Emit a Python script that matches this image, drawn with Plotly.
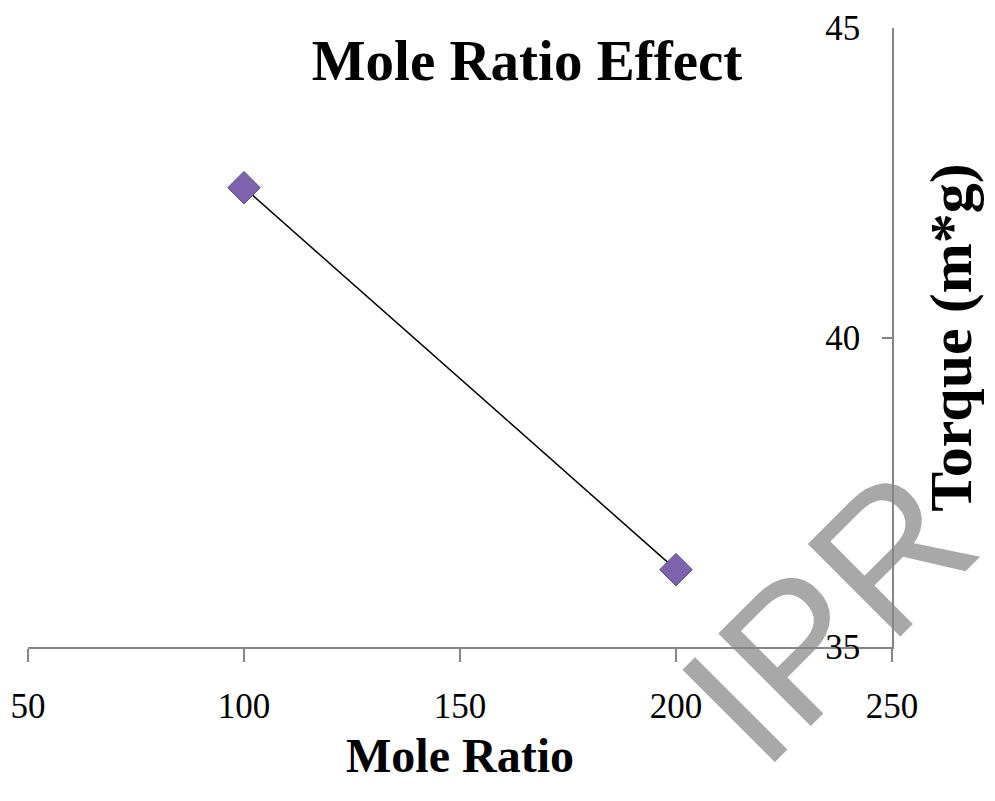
import plotly.graph_objects as go

mole_ratio = [100, 200]
torque = [42.42, 36.25]
x_ticks = [50, 100, 150, 200, 250]
y_ticks = [35, 40, 45]

SERIF = "Liberation Serif, Times New Roman, serif"

fig = go.Figure()
fig.add_trace(go.Scatter(
    x=mole_ratio, y=torque, mode="lines+markers",
    line=dict(color="black", width=1.5),
    marker=dict(symbol="diamond", size=25, color="#7D62AE",
                line=dict(color="#5C4784", width=1)),
    showlegend=False,
))

fig.update_layout(
    width=995, height=801,
    margin=dict(l=28, r=103, t=28, b=154),
    paper_bgcolor="white", plot_bgcolor="rgba(0,0,0,0)",
    title=dict(text="<b>Mole Ratio Effect</b>", x=527/995, xanchor="center",
               y=1 - 60/801, yanchor="middle",
               font=dict(family=SERIF, size=57, color="black")),
    xaxis=dict(
        range=[50, 250], tickvals=x_ticks, ticktext=[str(v) for v in x_ticks],
        showgrid=False, zeroline=False, automargin=False,
        showline=True, linecolor="#868686", linewidth=1.5,
        ticks="outside", ticklen=13, tickcolor="#868686", tickwidth=1.5,
        tickfont=dict(family=SERIF, size=35, color="black"),
        ticklabelstandoff=14, ticklabeloverflow="allow",
        title=dict(text="<b>Mole Ratio</b>", standoff=14,
                   font=dict(family=SERIF, size=48, color="black")),
    ),
    yaxis=dict(
        range=[35, 45], tickvals=y_ticks, ticktext=[str(v) for v in y_ticks],
        side="right", showgrid=False, zeroline=False, automargin=False,
        showline=True, linecolor="#868686", linewidth=1.5,
        ticks="inside", ticklen=10, tickcolor="#868686", tickwidth=1.5,
        ticklabelposition="inside", ticklabeloverflow="allow",
        ticklabelstandoff=26,
        tickfont=dict(family=SERIF, size=35, color="black"),
        title=dict(text="<b>Torque (m*g)</b>", standoff=70,
                   font=dict(family=SERIF, size=60, color="black")),
    ),
)

# watermark, drawn beneath the axes and data
cx, cy = (815 - 28) / 864, (647 - 603) / 619
fig.add_shape(
    type="rect", xref="paper", yref="paper",
    x0=cx - 0.01, x1=cx + 0.01, y0=cy - 0.01, y1=cy + 0.01,
    line=dict(width=0), fillcolor="rgba(0,0,0,0)", layer="below",
    label=dict(text="IPR", textangle=-45, textposition="middle center",
               font=dict(family="Liberation Sans, Arial, sans-serif", size=190,
                         color="#A8A8A8")),
)

fig.write_html("out.html")
